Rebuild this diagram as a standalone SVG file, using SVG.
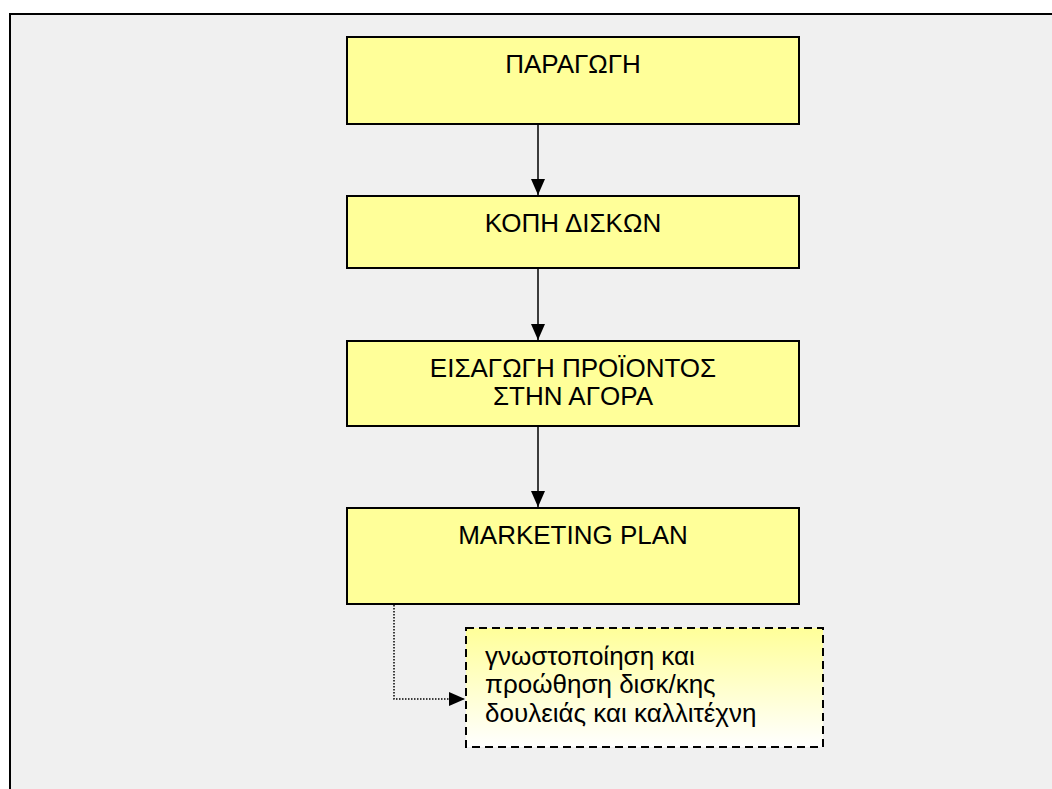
<svg xmlns="http://www.w3.org/2000/svg" width="1052" height="789" viewBox="0 0 1052 789">
  <style>
    .step { fill: #ffff99; stroke: #000; stroke-width: 2; }
    .label { font-family: "Liberation Sans", Arial, sans-serif; font-size: 26px; fill: #000; }
    .center { text-anchor: middle; }
    .flow { stroke: #000; stroke-width: 1.5; fill: none; }
    .link { stroke: #000; stroke-width: 1.5; fill: none; stroke-dasharray: 1.5 1.5; }
    .note { fill: url(#noteFill); stroke: #000; stroke-width: 2; stroke-dasharray: 8 5; }
  </style>
  <defs>
    <marker id="arrow" viewBox="0 0 16 14" refX="16" refY="7" markerWidth="16" markerHeight="14" markerUnits="userSpaceOnUse" orient="auto">
      <path d="M0,0 L16,7 L0,14 Z" fill="#000"/>
    </marker>
    <linearGradient id="noteFill" x1="0" y1="0" x2="0" y2="1">
      <stop offset="0" stop-color="#ffff99"/>
      <stop offset="1" stop-color="#ffffff"/>
    </linearGradient>
  </defs>

  <!-- page background and frame -->
  <rect x="0" y="0" width="1052" height="789" fill="#ffffff"/>
  <rect x="10" y="14" width="1060" height="800" fill="#f0f0f0" stroke="#000" stroke-width="2"/>

  <!-- connectors -->
  <g id="connectors">
    <line class="flow" x1="538" y1="124" x2="538" y2="195" marker-end="url(#arrow)"/>
    <line class="flow" x1="538" y1="268" x2="538" y2="340" marker-end="url(#arrow)"/>
    <line class="flow" x1="538" y1="426" x2="538" y2="507" marker-end="url(#arrow)"/>
    <polyline class="link" points="394,605 394,699 465,699" marker-end="url(#arrow)"/>
  </g>

  <g id="production">
    <rect class="step" x="347" y="37" width="452" height="87"/>
    <text class="label center" x="573" y="73">ΠΑΡΑΓΩΓΗ</text>
  </g>

  <g id="disc-cutting">
    <rect class="step" x="347" y="196" width="452" height="72"/>
    <text class="label center" x="573" y="232">ΚΟΠΗ ΔΙΣΚΩΝ</text>
  </g>

  <g id="market-launch">
    <rect class="step" x="347" y="341" width="452" height="85"/>
    <text class="label center" x="573" y="377">ΕΙΣΑΓΩΓΗ ΠΡΟΪΟΝΤΟΣ</text>
    <text class="label center" x="573" y="405">ΣΤΗΝ ΑΓΟΡΑ</text>
  </g>

  <g id="marketing-plan">
    <rect class="step" x="347" y="508" width="452" height="96"/>
    <text class="label center" x="573" y="544">MARKETING PLAN</text>
  </g>

  <g id="promotion">
    <rect class="note" x="466" y="628" width="357" height="119"/>
    <text class="label" x="485" y="665">γνωστοποίηση και</text>
    <text class="label" x="485" y="693">προώθηση δισκ/κης</text>
    <text class="label" x="485" y="722">δουλειάς και καλλιτέχνη</text>
  </g>
</svg>
